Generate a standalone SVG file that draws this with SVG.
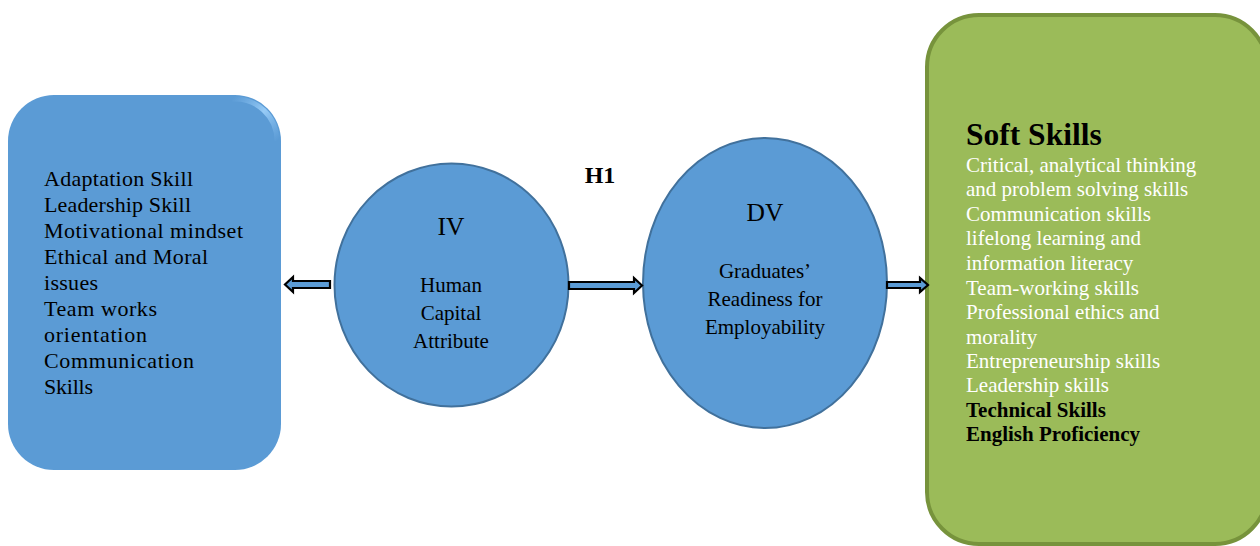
<svg xmlns="http://www.w3.org/2000/svg" width="1260" height="546" viewBox="0 0 1260 546">
<defs>
<linearGradient id="sheen" x1="0" y1="0" x2="1" y2="1">
<stop offset="0" stop-color="#8EC5F5" stop-opacity="0"/>
<stop offset="0.5" stop-color="#9DD0FA" stop-opacity="0.9"/>
<stop offset="1" stop-color="#8EC5F5" stop-opacity="0"/>
</linearGradient>
</defs>
<style>
text{font-family:"Liberation Serif","Times New Roman",serif;}
.lt{font-size:22px;fill:#000;}
.ct{font-size:21px;fill:#000;text-anchor:middle;}
.big{font-size:25.5px;fill:#000;text-anchor:middle;}
.wt{font-size:21px;fill:#fff;}
.bt{font-size:21px;fill:#000;font-weight:bold;}
.arrow{fill:#5B9BD5;stroke:#000;stroke-width:2.2;stroke-linejoin:miter;}
.ell{fill:#5B9BD5;stroke:#41719C;stroke-width:2;}
</style>
<rect width="1260" height="546" fill="#fff"/>
<g id="left-box">
<rect x="8" y="95" width="273" height="375" rx="46" ry="46" fill="#5B9BD5"/>
<path d="M232,99 A42,42 0 0 1 277,141" fill="none" stroke="url(#sheen)" stroke-width="5"/>
<text class="lt" x="44" y="186" textLength="149">Adaptation Skill</text>
<text class="lt" x="44" y="212" textLength="147">Leadership Skill</text>
<text class="lt" x="44" y="238" textLength="199">Motivational mindset</text>
<text class="lt" x="44" y="264" textLength="164">Ethical and Moral</text>
<text class="lt" x="44" y="290" textLength="54">issues</text>
<text class="lt" x="44" y="316" textLength="113">Team works</text>
<text class="lt" x="44" y="342" textLength="103">orientation</text>
<text class="lt" x="44" y="368" textLength="150">Communication</text>
<text class="lt" x="44" y="394" textLength="49">Skills</text>
</g>
<g id="iv">
<ellipse class="ell" cx="451.5" cy="285" rx="117" ry="121.5"/>
<text class="big" x="451" y="235">IV</text>
<text class="ct" x="451" y="292">Human</text>
<text class="ct" x="451" y="320">Capital</text>
<text class="ct" x="451" y="348">Attribute</text>
</g>
<g id="h1">
<text x="600" y="183" font-size="24" font-weight="bold" text-anchor="middle">H1</text>
</g>
<g id="dv">
<ellipse class="ell" cx="765" cy="283" rx="122" ry="145"/>
<text class="big" x="765" y="221">DV</text>
<text class="ct" x="765" y="278">Graduates’</text>
<text class="ct" x="765" y="306">Readiness for</text>
<text class="ct" x="765" y="334">Employability</text>
</g>
<g id="soft-skills">
<rect x="927" y="15" width="340" height="529" rx="52" ry="52" fill="#9BBB59" stroke="#77933C" stroke-width="4"/>
<text x="966" y="145" font-size="31.5" font-weight="bold" fill="#000">Soft Skills</text>
<text class="wt" x="966" y="172">Critical, analytical thinking</text>
<text class="wt" x="966" y="196">and problem solving skills</text>
<text class="wt" x="966" y="221">Communication skills</text>
<text class="wt" x="966" y="245">lifelong learning and</text>
<text class="wt" x="966" y="270">information literacy</text>
<text class="wt" x="966" y="295">Team-working skills</text>
<text class="wt" x="966" y="319">Professional ethics and</text>
<text class="wt" x="966" y="344">morality</text>
<text class="wt" x="966" y="368">Entrepreneurship skills</text>
<text class="wt" x="966" y="392">Leadership skills</text>
<text class="bt" x="966" y="417">Technical Skills</text>
<text class="bt" x="966" y="441">English Proficiency</text>
</g>
<g id="connectors">
<path class="arrow" d="M330,281 L293,281 L293,277 L285,284.5 L293,292 L293,288 L330,288 Z"/>
<path class="arrow" d="M569,282 L634,282 L634,278 L642,285.5 L634,293 L634,289 L569,289 Z"/>
<path class="arrow" d="M887,282 L920,282 L920,278 L928,285 L920,292 L920,288 L887,288 Z"/>
</g>
</svg>
